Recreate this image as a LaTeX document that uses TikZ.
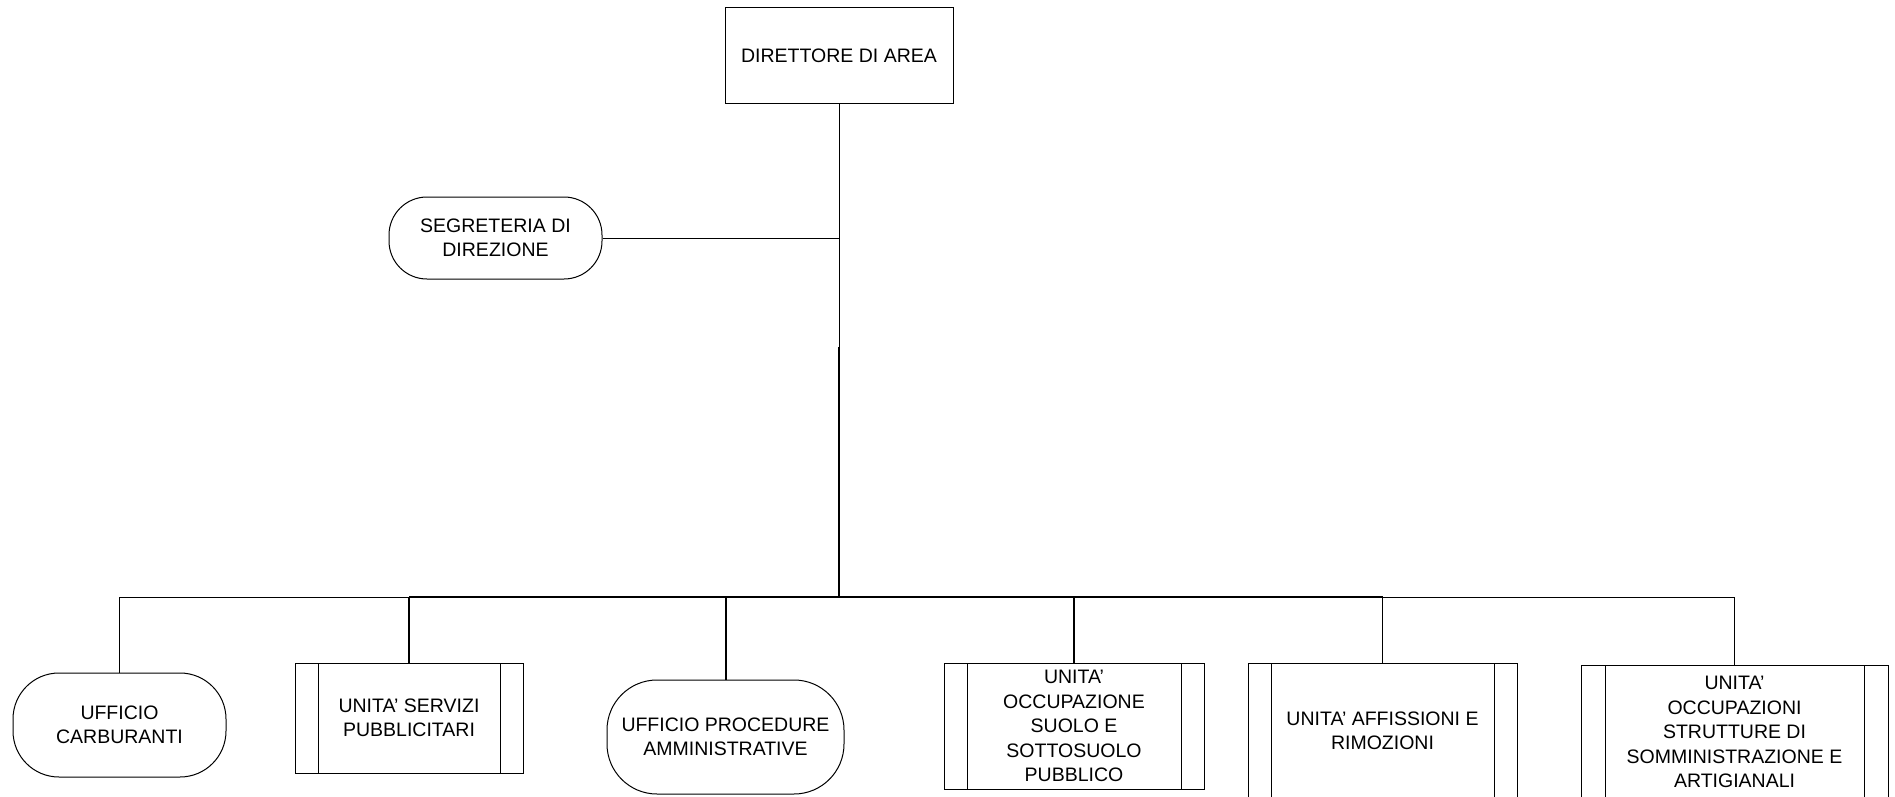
\documentclass[tikz,border=0pt]{standalone}
\usepackage{fontspec}
\setmainfont{Liberation Sans}
\begin{document}
\begin{tikzpicture}[x=1pt,y=-1pt,
  every node/.style={font=\fontsize{19.5}{24.5}\selectfont, align=center, inner sep=0pt, text=black},
  thin line/.style={line width=1pt, draw=black},
  thick line/.style={line width=2pt, draw=black},
  plainbox/.style={draw, line width=1pt},
  pill/.style={draw, line width=1pt, rounded corners=#1},
  unitbox/.style={draw, line width=1pt,
    path picture={
      \draw[line width=1pt] ([xshift=#1]path picture bounding box.north west) -- ([xshift=#1]path picture bounding box.south west);
      \draw[line width=1pt] ([xshift=-#1]path picture bounding box.north east) -- ([xshift=-#1]path picture bounding box.south east);
    }},
  unitbox/.default=23pt
]
\clip (0,0) rectangle (1895,797);
\fill[white] (0,0) rectangle (1895,797);

\node[plainbox, minimum width=228pt, minimum height=96pt] (dir) at (839,56) {DIRETTORE DI AREA};
\node[pill=38pt, minimum width=213pt, minimum height=82pt] (seg) at (495.5,238) {SEGRETERIA DI\\DIREZIONE};

\node[pill=46pt, minimum width=213pt, minimum height=104pt] (carb) at (119.5,725) {UFFICIO\\CARBURANTI};
\node[unitbox, minimum width=228pt, minimum height=110pt] (serv) at (409,718) {UNITA' SERVIZI\\PUBBLICITARI};
\node[pill=50pt, minimum width=237pt, minimum height=114pt] (proc) at (725.5,737) {UFFICIO PROCEDURE\\AMMINISTRATIVE};
\node[unitbox, minimum width=260pt, minimum height=126pt] (occ) at (1074,726) {UNITA'\\OCCUPAZIONE\\SUOLO E\\SOTTOSUOLO\\PUBBLICO};
\node[unitbox, minimum width=269pt, minimum height=136pt] (affi) at (1382.5,731) {UNITA' AFFISSIONI E\\RIMOZIONI};
\node[unitbox=24pt, minimum width=307pt, minimum height=134pt] (stru) at (1734.5,732) {UNITA'\\OCCUPAZIONI\\STRUTTURE DI\\SOMMINISTRAZIONE E\\ARTIGIANALI};

\coordinate (segj) at (839,238);
\coordinate (mid) at (839,347);
\coordinate (bus) at (839,597);
\coordinate (bL) at (serv.north |- bus);
\coordinate (bR) at (affi.north |- bus);

% top part
\draw[thin line] (dir.south) -- (mid);
\draw[thin line] (seg.east) -- (segj);
\draw[thick line] (mid) -- (bus);

% bus
\draw[thick line] (bL) -- (bR);
\draw[thin line] (carb.north) |- (bL);
\draw[thin line] (stru.north) |- (bR);

% drops
\draw[thick line] (serv.north) -- (bL);
\draw[thick line] (proc.north) -- (proc.north |- bus);
\draw[thick line] (occ.north) -- (occ.north |- bus);
\draw[thin line] (affi.north) -- (bR);
\end{tikzpicture}
\end{document}
